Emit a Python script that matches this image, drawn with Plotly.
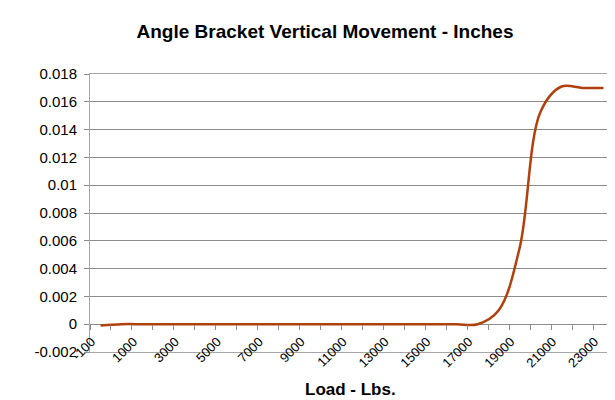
import plotly.graph_objects as go

loads = [-100, 0, 1000, 2000, 3000, 4000, 5000, 6000, 7000, 8000, 9000, 10000,
         11000, 12000, 13000, 14000, 15000, 16000, 17000, 18000, 19000, 20000,
         21000, 22000, 23000]
movement = [-0.0001, 0.0, 0.0, 0.0, 0.0, 0.0, 0.0, 0.0, 0.0, 0.0, 0.0, 0.0,
            0.0, 0.0, 0.0, 0.0, 0.0, 0.0, 0.0, 0.001, 0.0055, 0.0153,
            0.0171, 0.017, 0.017]
y_ticks = [-0.002, 0, 0.002, 0.004, 0.006, 0.008, 0.01, 0.012, 0.014, 0.016, 0.018]
y_tick_labels = ["-0.002", "0", "0.002", "0.004", "0.006", "0.008", "0.01",
                 "0.012", "0.014", "0.016", "0.018"]

idx = list(range(len(loads)))
n = len(loads)
label_idx = idx[::2]
label_txt = [str(loads[i]) for i in label_idx]
boundaries = [i - 0.5 for i in range(n + 1)]

FONT = "Liberation Sans, Arial, sans-serif"
BORDER = "#a6a6a6"
GRID = "#8c8c8c"

# page body has an 8px default margin; figure is sized to fill the rest
W, H = 607, 392
PLOT_H = H - 66 - 48

fig = go.Figure()
fig.add_trace(go.Scatter(
    x=idx, y=movement, mode="lines",
    line=dict(color="#B0400C", width=2.5, shape="spline", smoothing=1.0),
    showlegend=False, hoverinfo="x+y",
))
fig.add_trace(go.Scatter(x=[-0.5], y=[0], xaxis="x2", mode="markers",
                         marker=dict(opacity=0), showlegend=False, hoverinfo="skip"))

fig.update_layout(
    width=W, height=H,
    margin=dict(l=82, r=1, t=66, b=48, autoexpand=False),
    paper_bgcolor="white", plot_bgcolor="white",
    font=dict(family=FONT, color="black", size=14),
    title=dict(text="<b>Angle Bracket Vertical Movement - Inches</b>",
               x=(325 - 8) / W, xanchor="center", y=1 - 23 / H, yanchor="middle",
               xref="container", yref="container",
               font=dict(size=19, family=FONT, color="black")),
    xaxis=dict(
        range=[-0.5, n - 0.5], tickmode="array", tickvals=label_idx, ticktext=label_txt,
        tickangle=-45, ticks="", showgrid=False, zeroline=False,
        showline=True, linecolor=BORDER, linewidth=1, mirror=True,
        ticklabelstandoff=-24, ticklabelshift=-9,
        tickfont=dict(size=13, family=FONT, color="black"),
    ),
    xaxis2=dict(
        overlaying="x", anchor="free", position=0.1, side="bottom",
        range=[-0.5, n - 0.5], tickmode="array", tickvals=boundaries,
        showticklabels=False, ticks="outside", ticklen=5, tickcolor=GRID,
        showline=False, showgrid=False, zeroline=False,
    ),
    yaxis=dict(
        range=[-0.002, 0.018], tickmode="array", tickvals=y_ticks, ticktext=y_tick_labels,
        ticks="outside", ticklen=5, tickcolor=GRID,
        showgrid=True, gridcolor=GRID, gridwidth=1, zeroline=False,
        showline=True, linecolor=BORDER, linewidth=1, mirror=True,
        ticklabelstandoff=4,
        tickfont=dict(size=15, family=FONT, color="black"),
    ),
    annotations=[dict(text="<b>Load - Lbs.</b>", xref="paper", yref="paper",
                      x=(350 - 90) / 524, y=-(389 - 352) / PLOT_H, xanchor="center", yanchor="middle",
                      showarrow=False, font=dict(size=17, family=FONT, color="black"))],
)

fig.write_html("out.html")
